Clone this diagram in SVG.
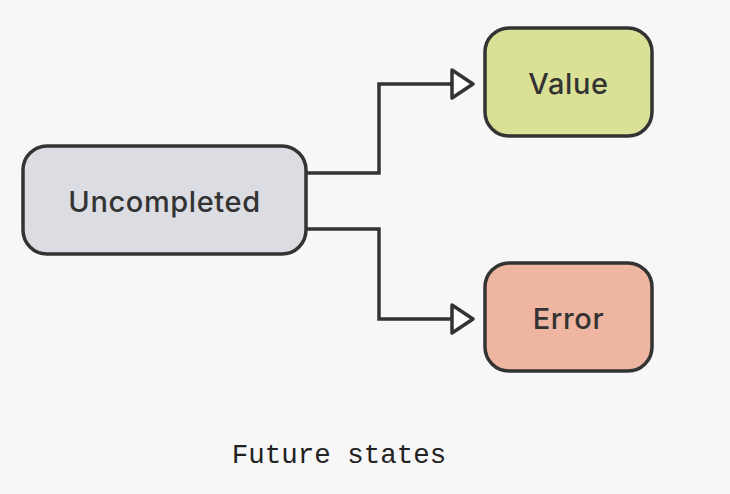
<svg xmlns="http://www.w3.org/2000/svg" width="730" height="494" viewBox="0 0 730 494">
<defs>
<style>
.node{stroke:#333;stroke-width:3.5}
.lbl{font-family:"Inter","Noto Sans","Liberation Sans",sans-serif;font-weight:500;font-size:29px;letter-spacing:0.6px;fill:#333;text-anchor:middle}
.edge{fill:none;stroke:#333;stroke-width:3.5}
.cap{font-family:"Liberation Mono","DejaVu Sans Mono",monospace;font-size:27.5px;fill:#222;text-anchor:middle}
</style>
</defs>
<rect width="730" height="494" fill="#f7f7f7"/>
<g id="connectors">
<path class="edge" d="M306,173 H379 V84 H452"/>
<path class="edge" d="M306,229 H379 V319 H452"/>
<path d="M452,70 L473,84 L452,98 Z" fill="#fff" stroke="#333" stroke-width="3.5" stroke-linejoin="round"/>
<path d="M452,305 L473,319 L452,333 Z" fill="#fff" stroke="#333" stroke-width="3.5" stroke-linejoin="round"/>
</g>
<g id="uncompleted">
<rect class="node" x="23" y="146" width="283" height="108" rx="24" fill="#dcdde2"/>
<text class="lbl" x="164.5" y="212">Uncompleted</text>
</g>
<g id="value">
<rect class="node" x="485" y="28" width="167" height="108" rx="24" fill="#dae095"/>
<text class="lbl" x="568.5" y="94">Value</text>
</g>
<g id="error">
<rect class="node" x="485" y="263" width="167" height="108" rx="24" fill="#eeb5a0"/>
<text class="lbl" x="568.5" y="329">Error</text>
</g>
<text class="cap" x="339" y="463">Future states</text>
</svg>
